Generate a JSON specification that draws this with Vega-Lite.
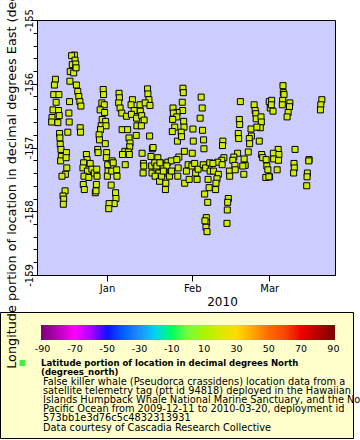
{
"$schema": "https://vega.github.io/schema/vega-lite/v6.json",
"width": 298, "height": 255,
"autosize": {"type": "none"},
"padding": {"left": 37, "top": 20, "right": 25, "bottom": 165},
"background": "white",
"config": {"font": "DejaVu Sans", "view": {"fill": "#ccccff", "stroke": "black", "strokeWidth": 1}},
"title": {"text": ["False killer whale (Pseudorca crassidens) location data from a", "satellite telemetry tag (ptt id 94818) deployed in the Hawaiian", "Islands Humpback Whale National Marine Sanctuary, and the North", "Pacific Ocean from 2009-12-11 to 2010-03-20, deployment id", "573bb1e3d76c5c4832313931", "Data courtesy of Cascadia Research Collective"],
  "orient": "bottom", "anchor": "start", "frame": "group", "offset": -62, "dx": 6, "baseline": "top",
  "fontSize": 9.8, "fontWeight": "normal", "lineHeight": 9.2, "color": "black", "font": "DejaVu Sans"},
"resolve": {"axis": {"y": "independent"}},
"layer": [
{
"data": {"values": [
{"t":"2009-12-20T03:00","lon":-155.55},{"t":"2009-12-19T03:00","lon":-155.56},{"t":"2009-12-20T09:00","lon":-155.63},{"t":"2009-12-19T09:00","lon":-155.70},{"t":"2009-12-20T15:00","lon":-155.69},{"t":"2009-12-18T15:00","lon":-155.81},{"t":"2009-12-19T21:00","lon":-155.83},{"t":"2009-12-20T18:00","lon":-155.75},{"t":"2009-12-13T06:00","lon":-155.93},{"t":"2009-12-12T21:00","lon":-156.02},
{"t":"2009-12-18T12:00","lon":-155.96},{"t":"2009-12-20T21:00","lon":-156.02},{"t":"2009-12-21T09:00","lon":-156.12},{"t":"2009-12-21T18:00","lon":-156.20},{"t":"2009-12-22T03:00","lon":-156.28},{"t":"2009-12-22T12:00","lon":-156.35},{"t":"2009-12-12T15:00","lon":-156.17},{"t":"2009-12-14T12:00","lon":-156.17},{"t":"2009-12-18T09:00","lon":-156.28},{"t":"2009-12-13T12:00","lon":-156.29},
{"t":"2009-12-12T09:00","lon":-156.41},{"t":"2009-12-14T09:00","lon":-156.42},{"t":"2009-12-12T00:00","lon":-156.53},{"t":"2009-12-14T15:00","lon":-156.50},{"t":"2009-12-11T21:00","lon":-156.60},{"t":"2009-12-14T03:00","lon":-156.61},{"t":"2009-12-18T03:00","lon":-156.46},{"t":"2009-12-18T06:00","lon":-156.60},{"t":"2009-12-17T18:00","lon":-156.76},{"t":"2009-12-22T06:00","lon":-156.69},
{"t":"2009-12-22T09:00","lon":-156.76},{"t":"2009-12-14T18:00","lon":-156.78},{"t":"2009-12-14T21:00","lon":-156.85},{"t":"2009-12-15T00:00","lon":-156.95},{"t":"2009-12-15T06:00","lon":-157.03},{"t":"2009-12-15T09:00","lon":-157.14},{"t":"2009-12-15T03:00","lon":-157.21},{"t":"2009-12-17T06:00","lon":-157.08},{"t":"2009-12-17T03:00","lon":-157.16},{"t":"2009-12-17T09:00","lon":-157.32},
{"t":"2009-12-16T21:00","lon":-157.42},{"t":"2009-12-15T15:00","lon":-157.45},{"t":"2009-12-16T18:00","lon":-157.68},{"t":"2009-12-16T00:00","lon":-157.76},{"t":"2009-12-16T06:00","lon":-157.81},{"t":"2009-12-16T03:00","lon":-157.89},{"t":"2009-12-24T12:00","lon":-157.11},{"t":"2009-12-24T18:00","lon":-157.19},{"t":"2009-12-23T12:00","lon":-157.24},{"t":"2009-12-25T21:00","lon":-157.25},
{"t":"2009-12-23T06:00","lon":-157.32},{"t":"2009-12-24T21:00","lon":-157.37},{"t":"2009-12-26T12:00","lon":-157.34},{"t":"2009-12-23T15:00","lon":-157.45},{"t":"2009-12-25T09:00","lon":-157.47},{"t":"2009-12-27T09:00","lon":-157.40},{"t":"2009-12-23T09:00","lon":-157.58},{"t":"2009-12-23T18:00","lon":-157.66},{"t":"2009-12-27T18:00","lon":-157.71},{"t":"2009-12-30T15:00","lon":-156.09},
{"t":"2009-12-30T18:00","lon":-156.17},{"t":"2009-12-30T03:00","lon":-156.30},{"t":"2009-12-31T00:00","lon":-156.33},{"t":"2009-12-29T12:00","lon":-156.41},{"t":"2009-12-31T03:00","lon":-156.45},{"t":"2009-12-30T06:00","lon":-156.56},{"t":"2009-12-31T12:00","lon":-156.59},{"t":"2009-12-29T21:00","lon":-156.66},{"t":"2009-12-31T15:00","lon":-156.66},{"t":"2009-12-29T15:00","lon":-156.72},
{"t":"2009-12-29T03:00","lon":-156.80},{"t":"2009-12-29T06:00","lon":-156.88},{"t":"2009-12-31T09:00","lon":-156.94},{"t":"2009-12-28T15:00","lon":-157.03},{"t":"2009-12-28T18:00","lon":-157.08},{"t":"2009-12-31T21:00","lon":-157.08},{"t":"2009-12-31T18:00","lon":-157.16},{"t":"2010-01-01T06:00","lon":-157.27},{"t":"2010-01-02T21:00","lon":-157.21},{"t":"2010-01-03T06:00","lon":-157.24},
{"t":"2009-12-28T06:00","lon":-157.34},{"t":"2009-12-28T09:00","lon":-157.45},{"t":"2009-12-28T03:00","lon":-157.58},{"t":"2009-12-28T00:00","lon":-157.68},{"t":"2010-01-01T09:00","lon":-157.37},{"t":"2010-01-01T03:00","lon":-157.45},{"t":"2010-01-02T18:00","lon":-157.37},{"t":"2010-01-04T12:00","lon":-157.35},{"t":"2010-01-04T15:00","lon":-157.45},{"t":"2010-01-02T12:00","lon":-157.59},
{"t":"2010-01-04T03:00","lon":-157.71},{"t":"2010-01-04T06:00","lon":-157.80},{"t":"2010-01-03T15:00","lon":-157.88},{"t":"2010-01-01T18:00","lon":-157.88},{"t":"2010-01-01T15:00","lon":-157.96},{"t":"2010-01-05T09:00","lon":-156.15},{"t":"2010-01-05T12:00","lon":-156.22},{"t":"2010-01-05T06:00","lon":-156.30},{"t":"2010-01-05T18:00","lon":-156.38},{"t":"2010-01-06T09:00","lon":-156.46},
{"t":"2010-01-08T03:00","lon":-156.51},{"t":"2010-01-06T12:00","lon":-156.72},{"t":"2010-01-08T12:00","lon":-156.72},{"t":"2010-01-09T00:00","lon":-156.85},{"t":"2010-01-09T09:00","lon":-156.93},{"t":"2010-01-09T06:00","lon":-156.99},{"t":"2010-01-07T12:00","lon":-157.06},{"t":"2010-01-08T18:00","lon":-157.07},{"t":"2010-01-06T15:00","lon":-157.11},{"t":"2010-01-09T03:00","lon":-157.11},
{"t":"2010-01-07T15:00","lon":-157.27},{"t":"2010-01-10T06:00","lon":-156.25},{"t":"2010-01-09T18:00","lon":-156.33},{"t":"2010-01-10T21:00","lon":-156.42},{"t":"2010-01-09T21:00","lon":-156.48},{"t":"2010-01-11T18:00","lon":-156.54},{"t":"2010-01-13T00:00","lon":-156.33},{"t":"2010-01-13T03:00","lon":-156.43},{"t":"2010-01-13T15:00","lon":-156.50},{"t":"2010-01-14T12:00","lon":-156.57},
{"t":"2010-01-11T21:00","lon":-156.66},{"t":"2010-01-13T12:00","lon":-156.66},{"t":"2010-01-11T15:00","lon":-156.81},{"t":"2010-01-15T18:00","lon":-156.08},{"t":"2010-01-15T21:00","lon":-156.16},{"t":"2010-01-16T06:00","lon":-156.25},{"t":"2010-01-14T21:00","lon":-156.30},{"t":"2010-01-16T15:00","lon":-156.34},{"t":"2010-01-16T12:00","lon":-156.82},{"t":"2010-01-13T18:00","lon":-157.09},
{"t":"2010-01-14T06:00","lon":-157.25},{"t":"2010-01-14T09:00","lon":-157.29},{"t":"2010-01-14T03:00","lon":-157.40},{"t":"2010-01-17T00:00","lon":-157.14},{"t":"2010-01-17T12:00","lon":-157.02},{"t":"2010-01-17T06:00","lon":-157.29},{"t":"2010-01-17T09:00","lon":-157.40},{"t":"2010-01-28T15:00","lon":-156.07},{"t":"2010-01-28T18:00","lon":-156.14},{"t":"2010-01-28T09:00","lon":-156.29},
{"t":"2010-01-28T12:00","lon":-156.42},{"t":"2010-01-25T00:00","lon":-156.38},{"t":"2010-01-26T12:00","lon":-156.45},{"t":"2010-01-25T03:00","lon":-156.46},{"t":"2010-01-26T09:00","lon":-156.52},{"t":"2010-01-24T21:00","lon":-156.56},{"t":"2010-01-28T21:00","lon":-156.59},{"t":"2010-01-29T00:00","lon":-156.68},{"t":"2010-01-25T15:00","lon":-156.68},{"t":"2010-01-24T18:00","lon":-156.75},
{"t":"2010-01-28T00:00","lon":-156.76},{"t":"2010-01-26T15:00","lon":-156.90},{"t":"2010-01-28T03:00","lon":-156.83},{"t":"2010-02-04T06:00","lon":-156.21},{"t":"2010-02-04T15:00","lon":-156.38},{"t":"2010-02-03T21:00","lon":-156.54},{"t":"2010-02-01T06:00","lon":-156.71},{"t":"2010-02-04T18:00","lon":-156.73},{"t":"2010-02-01T09:00","lon":-156.90},{"t":"2010-02-05T03:00","lon":-156.88},
{"t":"2010-02-05T06:00","lon":-157.02},{"t":"2010-02-01T00:00","lon":-157.09},{"t":"2010-01-29T03:00","lon":-157.06},{"t":"2010-01-27T03:00","lon":-157.15},{"t":"2010-01-17T18:00","lon":-157.00},{"t":"2010-01-19T12:00","lon":-157.16},{"t":"2010-01-18T09:00","lon":-157.24},{"t":"2010-01-20T09:00","lon":-157.24},{"t":"2010-01-18T21:00","lon":-157.32},{"t":"2010-01-21T09:00","lon":-157.29},
{"t":"2010-01-23T03:00","lon":-157.23},{"t":"2010-01-24T09:00","lon":-157.21},{"t":"2010-01-19T21:00","lon":-157.40},{"t":"2010-01-22T00:00","lon":-157.40},{"t":"2010-01-23T18:00","lon":-157.45},{"t":"2010-01-18T12:00","lon":-157.45},{"t":"2010-01-20T03:00","lon":-157.53},{"t":"2010-01-22T09:00","lon":-157.56},{"t":"2010-01-22T06:00","lon":-157.66},{"t":"2010-01-26T21:00","lon":-157.32},
{"t":"2010-01-26T18:00","lon":-157.45},{"t":"2010-01-29T06:00","lon":-157.56},{"t":"2010-01-29T21:00","lon":-157.37},{"t":"2010-01-30T12:00","lon":-157.27},{"t":"2010-01-31T21:00","lon":-157.29},{"t":"2010-02-01T21:00","lon":-157.25},{"t":"2010-01-30T21:00","lon":-157.50},{"t":"2010-02-02T06:00","lon":-157.40},{"t":"2010-02-02T18:00","lon":-157.50},{"t":"2010-02-03T03:00","lon":-157.34},
{"t":"2010-02-05T00:00","lon":-157.27},{"t":"2010-02-05T21:00","lon":-157.32},{"t":"2010-02-07T09:00","lon":-157.24},{"t":"2010-02-07T12:00","lon":-157.37},{"t":"2010-02-06T18:00","lon":-157.50},{"t":"2010-02-07T03:00","lon":-157.63},{"t":"2010-02-05T12:00","lon":-157.73},{"t":"2010-02-06T15:00","lon":-157.86},{"t":"2010-02-06T03:00","lon":-158.10},{"t":"2010-02-06T06:00","lon":-158.18},
{"t":"2010-02-06T00:00","lon":-158.25},{"t":"2010-02-06T09:00","lon":-158.32},{"t":"2010-02-05T15:00","lon":-158.15},{"t":"2010-02-18T12:00","lon":-156.28},{"t":"2010-02-23T12:00","lon":-156.33},{"t":"2010-02-23T21:00","lon":-156.42},{"t":"2010-02-24T03:00","lon":-156.47},{"t":"2010-02-24T06:00","lon":-156.55},{"t":"2010-02-26T00:00","lon":-156.52},{"t":"2010-02-26T03:00","lon":-156.60},
{"t":"2010-02-25T18:00","lon":-156.69},{"t":"2010-02-22T09:00","lon":-156.71},{"t":"2010-02-24T12:00","lon":-156.68},{"t":"2010-02-22T12:00","lon":-156.82},{"t":"2010-02-21T18:00","lon":-156.86},{"t":"2010-02-21T21:00","lon":-156.94},{"t":"2010-02-25T09:00","lon":-156.90},{"t":"2010-03-01T00:00","lon":-156.28},{"t":"2010-03-01T09:00","lon":-156.38},{"t":"2010-02-18T03:00","lon":-156.56},
{"t":"2010-02-18T06:00","lon":-156.64},{"t":"2010-02-17T18:00","lon":-156.78},{"t":"2010-02-17T21:00","lon":-156.86},{"t":"2010-02-12T03:00","lon":-156.90},{"t":"2010-02-12T00:00","lon":-156.97},{"t":"2010-02-21T09:00","lon":-157.07},{"t":"2010-02-17T12:00","lon":-157.09},{"t":"2010-02-16T03:00","lon":-157.15},{"t":"2010-02-15T18:00","lon":-157.20},{"t":"2010-02-19T21:00","lon":-157.18},
{"t":"2010-02-20T06:00","lon":-157.28},{"t":"2010-02-19T09:00","lon":-157.29},{"t":"2010-02-19T18:00","lon":-157.42},{"t":"2010-02-26T06:00","lon":-157.11},{"t":"2010-02-26T15:00","lon":-157.16},{"t":"2010-02-27T21:00","lon":-157.19},{"t":"2010-02-28T03:00","lon":-157.29},{"t":"2010-02-28T12:00","lon":-157.35},{"t":"2010-02-27T18:00","lon":-157.47},{"t":"2010-03-01T03:00","lon":-157.46},
{"t":"2010-02-12T12:00","lon":-157.16},{"t":"2010-02-11T18:00","lon":-157.20},{"t":"2010-02-10T06:00","lon":-157.23},{"t":"2010-02-08T12:00","lon":-157.25},{"t":"2010-02-11T21:00","lon":-157.27},{"t":"2010-02-08T18:00","lon":-157.37},{"t":"2010-02-10T12:00","lon":-157.42},{"t":"2010-02-10T00:00","lon":-157.49},{"t":"2010-02-09T15:00","lon":-157.56},{"t":"2010-02-09T12:00","lon":-157.66},
{"t":"2010-02-14T12:00","lon":-157.37},{"t":"2010-02-14T15:00","lon":-157.45},{"t":"2010-02-16T12:00","lon":-157.28},{"t":"2010-02-16T15:00","lon":-157.35},{"t":"2010-02-14T03:00","lon":-157.80},{"t":"2010-02-13T21:00","lon":-157.86},{"t":"2010-02-13T18:00","lon":-157.98},{"t":"2010-02-13T15:00","lon":-158.19},{"t":"2010-03-06T00:00","lon":-156.03},{"t":"2010-03-06T03:00","lon":-156.14},
{"t":"2010-03-06T09:00","lon":-156.17},{"t":"2010-03-05T21:00","lon":-156.26},{"t":"2010-03-05T18:00","lon":-156.33},{"t":"2010-03-08T12:00","lon":-156.30},{"t":"2010-03-08T09:00","lon":-156.36},{"t":"2010-03-07T21:00","lon":-156.45},{"t":"2010-03-07T12:00","lon":-156.52},{"t":"2010-03-01T21:00","lon":-156.26},{"t":"2010-03-01T18:00","lon":-156.33},{"t":"2010-03-02T09:00","lon":-156.43},
{"t":"2010-03-20T03:00","lon":-156.25},{"t":"2010-03-19T18:00","lon":-156.33},{"t":"2010-03-19T15:00","lon":-156.41},{"t":"2010-03-04T06:00","lon":-157.03},{"t":"2010-03-02T12:00","lon":-157.09},{"t":"2010-03-04T12:00","lon":-157.11},{"t":"2010-03-02T15:00","lon":-157.18},{"t":"2010-03-04T09:00","lon":-157.20},{"t":"2010-03-10T09:00","lon":-157.03},{"t":"2010-03-10T00:00","lon":-157.25},
{"t":"2010-03-10T03:00","lon":-157.32},{"t":"2010-03-09T21:00","lon":-157.40},{"t":"2010-03-03T21:00","lon":-157.35},{"t":"2010-02-28T21:00","lon":-157.46},{"t":"2010-03-15T12:00","lon":-157.19},{"t":"2010-03-15T09:00","lon":-157.21},{"t":"2010-03-14T21:00","lon":-157.40},{"t":"2010-03-14T18:00","lon":-157.46},{"t":"2010-03-14T15:00","lon":-157.60},{"t":"2010-01-19T03:00","lon":-157.29},
{"t":"2010-01-20T21:00","lon":-157.45},{"t":"2010-01-22T18:00","lon":-157.29},{"t":"2010-01-24T12:00","lon":-157.37},{"t":"2010-01-26T09:00","lon":-157.19},{"t":"2010-01-21T12:00","lon":-157.37},{"t":"2010-01-20T06:00","lon":-157.24}
]},
"mark": {"type": "point", "shape": "square", "filled": true, "stroke": "black", "strokeWidth": 1, "size": 36, "opacity": 1},
"encoding": {
  "x": {"field": "t", "type": "temporal",
    "scale": {"domain": [{"year": 2009, "month": 12, "date": 6, "hours": 13}, {"year": 2010, "month": 3, "date": 24, "hours": 22}]},
    "axis": {"values": [{"year": 2010, "month": 1, "date": 1}, {"year": 2010, "month": 2, "date": 1}, {"year": 2010, "month": 3, "date": 1}],
      "format": "%b", "grid": false, "tickSize": 6, "tickColor": "black", "domainColor": "black", "labelColor": "black", "labelFontSize": 10, "labelPadding": 2,
      "title": "2010", "titleFontSize": 12, "titleFontWeight": "normal", "titleColor": "black", "titlePadding": 3, "titleX": 185}},
  "y": {"field": "lon", "type": "quantitative",
    "scale": {"domain": [-159, -155], "nice": false, "zero": false},
    "axis": {"values": [-159, -158, -157, -156, -155], "labelExpr": "'' + datum.value", "orient": "left",
      "tickSize": 7, "grid": false, "tickColor": "black", "domainColor": "black", "labelColor": "black", "labelFontSize": 10, "labelAngle": -90, "labelPadding": -4, "labelOverlap": false,
      "title": "Longitude portion of location in decimal degrees East (degrees_east)", "titleFontSize": 12.8, "titleFontWeight": "normal", "titleColor": "black", "titlePadding": 6, "zindex": 3}},
  "fill": {"datum": 18, "type": "quantitative",
    "scale": {"domain": [-91,-90,-70,-50,-30,-10,10,30,50,70,90,91], "range": ["#800080","#800080","#ff00ff","#1010ff","#1e90ff","#00ff60","#aaf500","#ffdc00","#ff6a00","#f00000","#800000","#800000"]},
    "legend": {"type": "gradient", "orient": "none", "direction": "horizontal", "legendX": -37, "legendY": 292,
      "gradientLength": 294, "gradientThickness": 15, "gradientStrokeWidth": 0,
      "values": [-90,-70,-50,-30,-10,10,30,50,70,90], "labelOverlap": false, "labelExpr": "'' + datum.value",
      "labelFontSize": 9.5, "labelColor": "black", "labelOffset": 4,
      "fillColor": "#ffffcc", "strokeColor": "black", "padding": 13,
      "title": ["\u00a0","\u00a0","\u00a0","\u00a0","\u00a0","\u00a0","\u00a0","\u00a0","\u00a0","\u00a0"],
      "titleOrient": "left", "titleAnchor": "start", "titleFontSize": 10, "titleLineHeight": 10, "titlePadding": 28}}
}
},
{
"data": {"values": []},
"mark": {"type": "point", "shape": "square", "filled": true, "fill": "#44ee44", "stroke": "black", "strokeWidth": 1, "size": 36, "opacity": 1},
"encoding": {
  "y": {"field": "lon", "type": "quantitative",
    "axis": {"orient": "left", "values": [-158.8,-158.6,-158.4,-158.2,-157.8,-157.6,-157.4,-157.2,-156.8,-156.6,-156.4,-156.2,-155.8,-155.6,-155.4,-155.2],
      "labels": false, "domain": false, "grid": false, "tickSize": 4, "tickColor": "black", "title": null}},
  "shape": {"datum": "lat", "type": "nominal", "scale": {"range": ["square"]},
    "legend": {"orient": "none", "legendX": -19.5, "legendY": 338, "zindex": 2, "padding": 0,
      "title": ["Latitude portion of location in decimal degrees North", "(degrees_north)"], "titleOrient": "right", "titleAnchor": "start",
      "titleFont": "DejaVu Sans Condensed", "titleFontWeight": "bold", "titleFontSize": 9.5, "titleLineHeight": 9.2, "titlePadding": 9.5, "titleColor": "black", "titleLimit": 400,
      "labelExpr": "''", "symbolSize": 36, "symbolType": "square", "symbolFillColor": "#44ee44", "symbolStrokeColor": "black", "symbolStrokeWidth": 1}}
}
}
]
}
